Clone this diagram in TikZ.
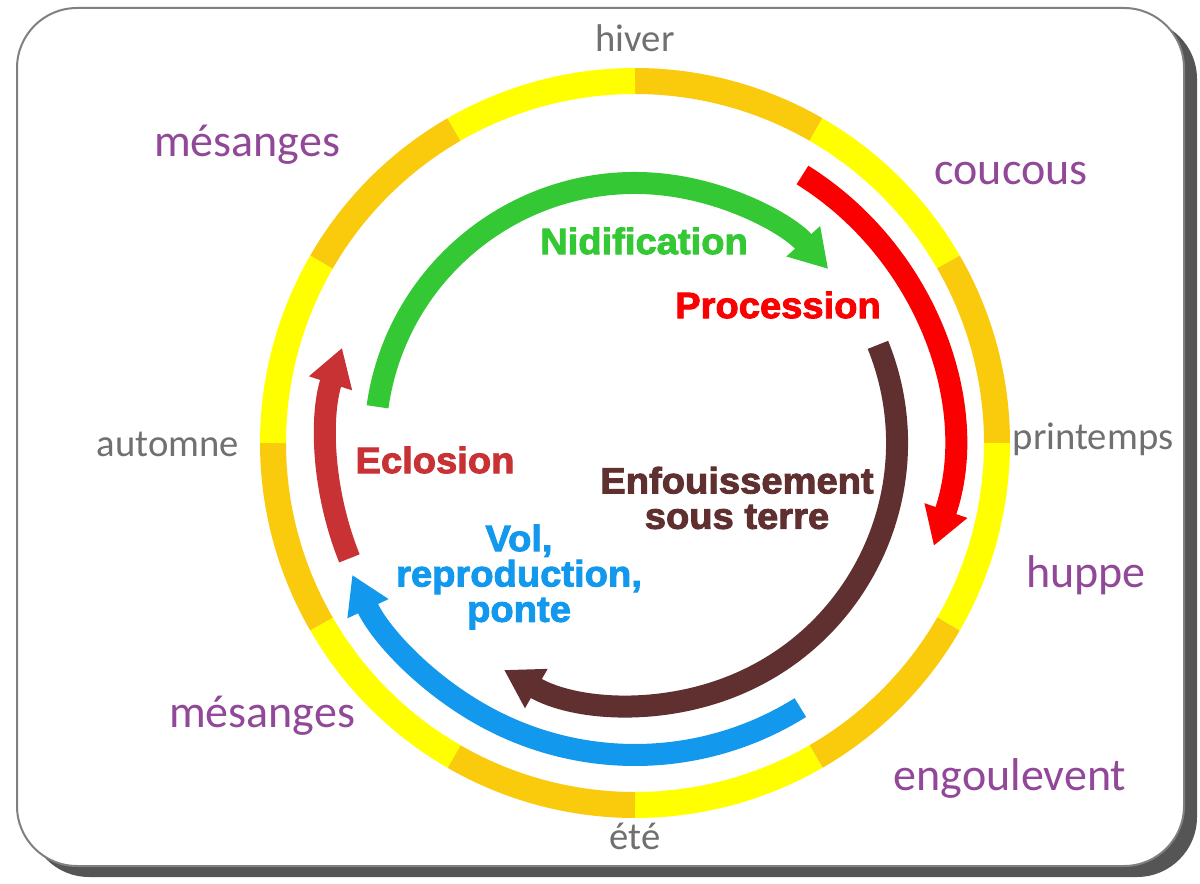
\documentclass[tikz,border=0pt]{standalone}
\usepackage{fontspec}
\newfontfamily\birdFont{Carlito}
\newfontfamily\stageFont[FakeStretch=1.04,FakeBold=2.5]{Liberation Sans}
\usetikzlibrary{arrows.meta}
\definecolor{ringYellow}{RGB}{255,255,0}
\definecolor{ringOrange}{RGB}{250,202,12}
\definecolor{nidifGreen}{RGB}{52,200,52}
\definecolor{processRed}{RGB}{250,0,0}
\definecolor{buryBrown}{RGB}{96,48,48}
\definecolor{flightBlue}{RGB}{18,152,236}
\definecolor{hatchRed}{RGB}{200,50,52}
\definecolor{seasonGray}{RGB}{112,112,112}
\definecolor{birdPurple}{RGB}{146,72,152}
\definecolor{frameGray}{RGB}{128,128,128}
\definecolor{frameShadow}{RGB}{85,85,85}
\begin{document}
\begin{tikzpicture}
[x=0.75pt,y=0.75pt,
  ringDecorate/.style={line width=19.5pt},%
  arrowDecorate/.style={line width=16.5pt,-{Triangle[width=32pt,length=28pt]}},%
  stageDecorate/.style={font=\stageFont\bfseries\fontsize{27.5}{26.5}\selectfont,align=center,inner sep=0pt},%
  seasonDecorate/.style={font=\birdFont\fontsize{29}{34}\selectfont,text=seasonGray,anchor=base,inner sep=0pt},%
  birdDecorate/.style={font=\birdFont\fontsize{34.5}{40}\selectfont,text=birdPurple,anchor=base,inner sep=0pt}]
\useasboundingbox (0,0) rectangle (1200,883);
%% frame with shadow
\fill[frameShadow,rounded corners=45pt] (29,6) rectangle (1197,864);
\draw[frameGray,line width=1.5pt,fill=white,rounded corners=45pt] (17,17) rectangle (1184,875);
\coordinate (hub) at (635,440);
%% months ring
\foreach \start/\fillcolor in {
  90/ringOrange, 60/ringYellow, 30/ringOrange, 0/ringYellow,
  -30/ringOrange, -60/ringYellow, -90/ringOrange, -120/ringYellow,
  -150/ringOrange, -180/ringYellow, -210/ringOrange, -240/ringYellow}
{
  \draw[ringDecorate,\fillcolor] ([shift={(\start:362)}]hub) arc[start angle=\start,end angle=\start-30,radius=362];
}
%% life cycle arrows
\draw[arrowDecorate,nidifGreen] ([shift={(172:260)}]hub) arc[start angle=172,end angle=42,radius=260];
\draw[arrowDecorate,processRed] ([shift={(58:316)}]hub) arc[start angle=58,end angle=-19,radius=316];
\draw[arrowDecorate,buryBrown] ([shift={(22:262)}]hub) arc[start angle=22,end angle=-120,radius=262];
\draw[arrowDecorate,flightBlue] ([shift={(-58:312)}]hub) arc[start angle=-58,end angle=-155,radius=312];
\draw[arrowDecorate,hatchRed] ([shift={(202:308)}]hub) arc[start angle=202,end angle=162,radius=308];
%% stages
\node (nidification) at (644,642) [stageDecorate,text=nidifGreen] {Nidification};
\node (procession) at (778,578) [stageDecorate,text=processRed] {Procession};
\node (enfouissement) at (737,385) [stageDecorate,text=buryBrown] {Enfouissement\\sous terre};
\node (vol) at (519,306) [stageDecorate,text=flightBlue] {Vol,\\reproduction,\\ponte};
\node (eclosion) at (435,423) [stageDecorate,text=hatchRed] {Eclosion};
%% seasons
\foreach \nodename/\x/\y/\season in {
  hiver/635/831/hiver, printemps/1093/433/printemps,
  ete/635/34/été, automne/168/426/automne}
{
  \node (\nodename) at (\x,\y) [seasonDecorate] {\season};
}
%% birds
\foreach \nodename/\x/\y/\bird in {
  mesangesHaut/247/726/mésanges, coucous/1011/698/coucous,
  huppe/1086/296/huppe, engoulevent/1010/93/engoulevent,
  mesangesBas/262/156/mésanges}
{
  \node (\nodename) at (\x,\y) [birdDecorate] {\bird};
}
\end{tikzpicture}
\end{document}
